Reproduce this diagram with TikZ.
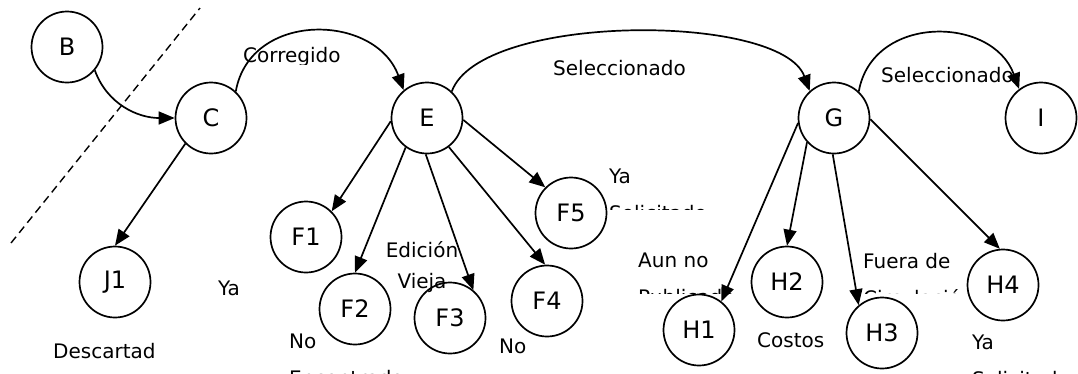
\documentclass[tikz,border=0pt]{standalone}
\usepackage{fontspec}
\setmainfont{DejaVu Sans}
\usetikzlibrary{arrows.meta}
\tikzstyle{estado} = [circle, minimum size=71pt, inner sep=0pt, draw=black, line width=1.7pt, font=\fontsize{24}{28}\selectfont]
\tikzstyle{flecha} = [line width=1.7pt, -{Triangle[length=16pt,width=13pt]}]
\tikzstyle{rotulo} = [inner sep=0pt, anchor=base west, align=left, font=\fontsize{20}{37}\selectfont]
\tikzstyle{corte} = [line width=1.4pt, dash pattern=on 8pt off 5pt]

\begin{document}
\begin{tikzpicture}[x=1pt,y=1pt]%
	\useasboundingbox (0,0) rectangle (1078,-373);%
	% estados
	\node [estado] (B) at (67,-47) {B};%
	\node [estado] (C) at (211,-118) {C};%
	\node [estado] (E) at (427,-118) {E};%
	\node [estado] (G) at (834,-118) {G};%
	\node [estado] (I) at (1041,-118) {I};%
	\node [estado] (J1) at (115,-282) {J1};%
	\node [estado] (F1) at (306,-237) {F1};%
	\node [estado] (F2) at (355,-309) {F2};%
	\node [estado] (F3) at (450,-318) {F3};%
	\node [estado] (F4) at (547,-301) {F4};%
	\node [estado] (F5) at (571,-213) {F5};%
	\node [estado] (H1) at (699,-330) {H1};%
	\node [estado] (H2) at (787,-282) {H2};%
	\node [estado] (H3) at (882,-333) {H3};%
	\node [estado] (H4) at (1003,-285) {H4};%
	% limite
	\coordinate (lim1) at (11,-243);%
	\coordinate (lim2) at (200,-8);%
	\draw [corte] (lim1) -- (lim2);%
	% transiciones
	\draw [flecha] (B.-40) to[out=-70, in=180] (C.west);%
	\draw [flecha] (C.47) to[out=80, in=110, looseness=1.25] (E.130);%
	\draw [flecha] (E.47) to[out=70, in=110, looseness=0.6] (G.132);%
	\draw [flecha] (G.47) to[out=80, in=110, looseness=1.25] (I.127);%
	\draw [flecha] (C.-135) -- (J1.north);%
	\draw [flecha] (E.185) -- (F1.45);%
	\draw [flecha] (E.-126) -- (F2.north);%
	\draw [flecha] (E.-92) -- (F3.50);%
	\draw [flecha] (E.-53) -- (F4.93);%
	\draw [flecha] (E.-3) -- (F5.135);%
	\draw [flecha] (G.-172) -- (H1.52);%
	\draw [flecha] (G.-138) -- (H2.north);%
	\draw [flecha] (G.-92) -- (H3.130);%
	\draw [flecha] (G.-2) -- (H4.95);%
	% rotulos (base en la ultima linea)
	\begin{scope}%
		\clip (240,-40) rectangle (350,-64);%
		\node [rotulo] (corregido) at (243,-62) {Corregido};%
	\end{scope}%
	\node [rotulo] (sel1) at (553,-75) {Seleccionado};%
	\node [rotulo] (sel2) at (881,-82) {Seleccionado};%
	\begin{scope}%
		\clip (40,-330) rectangle (155,-373);%
		\node [rotulo] (descartado) at (53,-358) {Descartado};%
	\end{scope}%
	\node [rotulo] (ya1) at (218,-295) {Ya};%
	\node [rotulo] (no1) at (289,-385) {No\\Encontrado};%
	\node [rotulo, align=center, anchor=base, font=\fontsize{20}{31}\selectfont] (vieja) at (422,-288) {Edición\\Vieja};%
	\node [rotulo] (no2) at (499,-353) {No};%
	\begin{scope}%
		\clip (600,-160) rectangle (720,-209);%
		\node [rotulo] (ya2) at (609,-220) {Ya\\Solicitado};%
	\end{scope}%
	\begin{scope}%
		\clip (630,-240) rectangle (760,-293);%
		\node [rotulo] (aun) at (638,-304) {Aun no\\Publicado};%
	\end{scope}%
	\node [rotulo] (costos) at (757,-347) {Costos};%
	\begin{scope}%
		\clip (855,-240) rectangle (995,-293);%
		\node [rotulo] (fuera) at (863,-305) {Fuera de\\Circulación};%
	\end{scope}%
	\node [rotulo] (ya3) at (972,-386) {Ya\\Solicitado};%
\end{tikzpicture}
\end{document}
